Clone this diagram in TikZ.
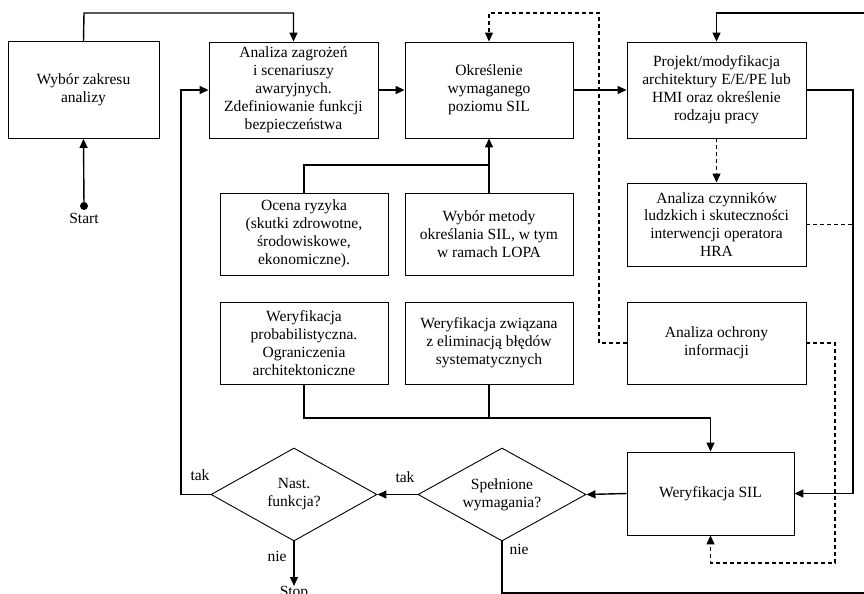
\documentclass[tikz,border=0pt]{standalone}
\usepackage{fontspec}
\setmainfont{Liberation Serif}
\usetikzlibrary{arrows.meta,shapes.geometric}
\begin{document}
\begin{tikzpicture}[x=1bp,y=-1bp,
  every node/.style={font=\fontsize{15.6}{18}\selectfont},
  box/.style={draw,line width=0.9bp,rectangle,inner sep=0pt,align=center},
  dia/.style={draw,line width=0.9bp,diamond,inner sep=0pt,align=center,aspect=1.8},
  conn/.style={line width=1.4bp},
  arr/.style={conn,-{Triangle[length=9bp,width=8bp]}},
  dsh/.style={line width=1.2bp,dash pattern=on 4bp off 3bp},
  darr/.style={dsh,-{Triangle[length=9bp,width=8bp]}},
  lbl/.style={inner sep=0pt}]
\useasboundingbox (0,0) rectangle (864,594);
% boxes
\node[box,minimum width=151bp,minimum height=97bp] (wyb) at (83.5,90) {Wybór zakresu\\analizy};
\node[box,minimum width=169bp,minimum height=96bp] (anz) at (293.5,90) {Analiza zagrożeń\\i scenariuszy\\awaryjnych.\\Zdefiniowanie funkcji\\bezpieczeństwa};
\node[box,minimum width=168bp,minimum height=96bp] (okr) at (489,90) {Określenie\\wymaganego\\poziomu SIL};
\node[box,minimum width=179bp,minimum height=96bp] (proj) at (716.5,90) {Projekt/modyfikacja\\architektury E/E/PE lub\\HMI oraz określenie\\rodzaju pracy};
\node[box,minimum width=179bp,minimum height=83bp] (hra) at (716.5,224.5) {Analiza czynników\\ludzkich i skuteczności\\interwencji operatora\\HRA};
\node[box,minimum width=168bp,minimum height=82bp] (ocena) at (304,234) {Ocena ryzyka\\(skutki zdrowotne,\\środowiskowe,\\ekonomiczne).};
\node[box,minimum width=168bp,minimum height=82bp] (metoda) at (489,234) {Wybór metody\\określania SIL, w tym\\w ramach LOPA};
\node[box,minimum width=168bp,minimum height=82bp] (prob) at (304,343) {Weryfikacja\\probabilistyczna.\\Ograniczenia\\architektoniczne};
\node[box,minimum width=168bp,minimum height=82bp] (syst) at (489,343) {Weryfikacja związana\\z eliminacją błędów\\systematycznych};
\node[box,minimum width=179bp,minimum height=82bp] (ochr) at (716.5,343) {Analiza ochrony\\informacji};
\node[box,minimum width=167bp,minimum height=83bp] (wsil) at (710.5,493.5) {Weryfikacja SIL};
\node[dia,minimum width=168bp,minimum height=93bp] (spel) at (502,494.5) {Spełnione\\wymagania?};
\node[dia,minimum width=166bp,minimum height=93bp] (nast) at (294,494.5) {Nast.\\funkcja?};
% start / stop
\node[circle,fill,inner sep=0pt,minimum size=8bp] (start) at (84,206) {};
\node[lbl,anchor=north] (startlbl) at (84,213) {Start};
\node[lbl,anchor=north] (stop) at (294,586) {Stop};
% helper coordinates
\coordinate (topA) at (84,13);
\coordinate (leftL) at (181,494.5);
\coordinate (midJ) at (489,165);
\coordinate (dashX) at (599,13);
\coordinate (rightV) at (853,90);
\coordinate (hraEnd) at (852,224.5);
\coordinate (dashR) at (835,563);
\coordinate (botJ) at (304,418);
\coordinate (botL) at (502,593);
\coordinate (botR) at (870,593);
\coordinate (topR) at (870,13);
% connectors
\draw[arr] (start) -- (wyb.south);
\draw[arr] (wyb.north) -- (topA) -| (anz.north);
\draw[arr] (anz.east) -- (okr.west);
\draw[arr] (okr.east) -- (proj.west);
\draw[arr] (nast.west) -- (leftL) |- (anz.west);
\draw[conn] (ocena.north) |- (midJ);
\draw[arr] (metoda.north) -- (okr.south);
\draw[darr] (ochr.west) -| (dashX) -| (okr.north);
\draw[darr] (proj.south) -- (hra.north);
\draw[dsh] (hra.east) -- (hraEnd);
\draw[arr] (proj.east) -- (rightV) |- (wsil.east);
\draw[darr] (ochr.east) -| (dashR) -| (wsil.south);
\draw[arr] (prob.south) -- (botJ) -| (wsil.north);
\draw[conn] (syst.south) -- (syst.south |- botJ);
\draw[arr] (wsil.west) -- (spel.east);
\draw[arr] (spel.west) -- (nast.east);
\draw[arr] (nast.south) -- (stop.north);
\draw[conn] (spel.south) -- (botL) -- (botR);
\draw[arr] (topR) -| (proj.north);
% labels
\node[lbl] (tak1) at (200,475) {tak};
\node[lbl] (tak2) at (405,477) {tak};
\node[lbl] (nie1) at (277,556) {nie};
\node[lbl] (nie2) at (519,549) {nie};
\end{tikzpicture}
\end{document}
